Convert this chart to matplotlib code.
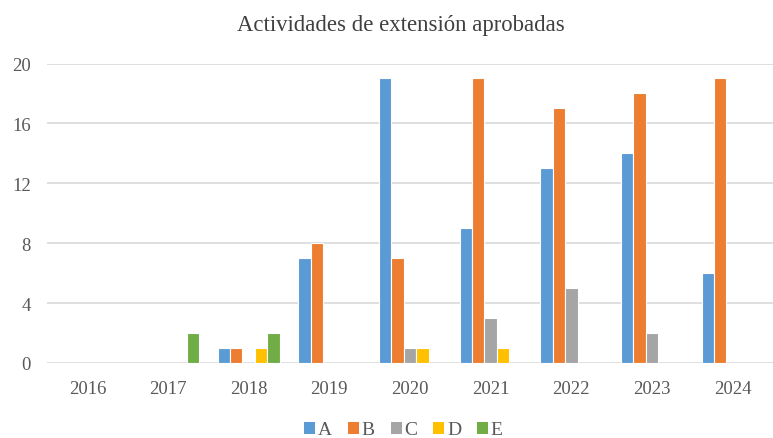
import numpy as np
import matplotlib.pyplot as plt
from matplotlib.patches import Patch

years = ['2016', '2017', '2018', '2019', '2020', '2021', '2022', '2023', '2024']
series_names = ['A', 'B', 'C', 'D', 'E']
vals_a = [0, 0, 1, 7, 19, 9, 13, 14, 6]
vals_b = [0, 0, 1, 8, 7, 19, 17, 18, 19]
vals_c = [0, 0, 0, 0, 1, 3, 5, 2, 0]
vals_d = [0, 0, 1, 0, 1, 1, 0, 0, 0]
vals_e = [0, 2, 2, 0, 0, 0, 0, 0, 0]
colors = ['#5B9BD5', '#ED7D31', '#A5A5A5', '#FFC000', '#70AD47']

plt.rcParams['font.family'] = ['Liberation Serif', 'DejaVu Serif']

fig = plt.figure(figsize=(7.73, 4.39), dpi=100)
ax = fig.add_axes([47 / 773, 75 / 439, 726 / 773, 299.5 / 439])

x = np.arange(len(years))
w = 0.154
all_vals = [vals_a, vals_b, vals_c, vals_d, vals_e]
for i, (vals, c) in enumerate(zip(all_vals, colors)):
    ax.bar(x + (i - 2) * w, vals, width=w, color=c, edgecolor='white',
           linewidth=0.8, zorder=3)

ax.set_xlim(-0.5, len(years) - 0.5)
ax.set_ylim(0, 20)
ax.set_yticks(range(0, 21, 4))
ax.set_xticks(x)
ax.set_xticklabels(years)
ax.grid(axis='y', color='#D9D9D9', linewidth=1.2, zorder=0)
for s in ax.spines.values():
    s.set_visible(False)
ax.tick_params(length=0, labelsize=13.5, colors='#595959')
ax.tick_params(axis='y', pad=11.5)
ax.tick_params(axis='x', pad=12)

fig.text(0.518, 1 - 26 / 439, 'Actividades de extensión aprobadas',
         ha='center', va='center', fontsize=16.4, color='#404040')

handles = [Patch(facecolor=c, label=n) for c, n in zip(colors, series_names)]
leg = fig.legend(handles=handles, loc='center', ncol=5,
                 bbox_to_anchor=(0.522, 1 - 431 / 439), frameon=False,
                 fontsize=14, handlelength=0.57, handleheight=0.57,
                 handletextpad=0.15, columnspacing=0.8, borderpad=0)
for t in leg.get_texts():
    t.set_color('#595959')

fig.savefig('out.png', dpi=100)
